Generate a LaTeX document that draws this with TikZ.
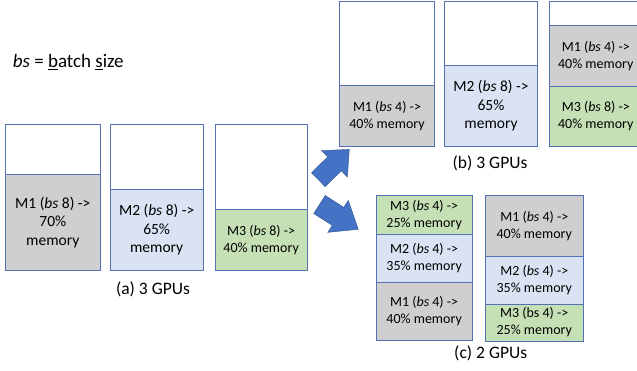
\documentclass[tikz,border=0pt]{standalone}
\usepackage{fontspec}
\setmainfont{Carlito}
\definecolor{bordc}{RGB}{84,114,178}
\definecolor{grayf}{RGB}{208,206,206}
\definecolor{bluef}{RGB}{218,227,243}
\definecolor{greenf}{RGB}{197,224,180}
\definecolor{arrf}{RGB}{68,114,196}
\definecolor{arrd}{RGB}{47,82,143}
\tikzset{
  seg/.style={draw=bordc, line width=0.9pt, rectangle, inner sep=0pt, align=center, text=black},
  big/.style={font=\fontsize{15.5}{18.5}\selectfont},
  small/.style={font=\fontsize{14}{17}\selectfont},
  captext/.style={font=\fontsize{17.5}{20}\selectfont, inner sep=0pt},
  blockarrow/.style={fill=arrf, draw=arrd, line width=0.4pt}
}
\begin{document}
\begin{tikzpicture}[x=1pt,y=-1pt]
\useasboundingbox (0,0) rectangle (637,370);
\clip (0,0) rectangle (637,370);
% legend
\node[anchor=base west, inner sep=0pt, font=\fontsize{19}{22}\selectfont] (legend) at (12.7,67.3) {\textit{bs} = \underline{b}atch \underline{s}ize};
% (a)
\node[seg, minimum width=95pt, minimum height=50pt] (a1t) at (52.8,149.3) {};
\node[seg, big, fill=grayf, minimum width=95pt, minimum height=95.7pt] (a1b) at (52.8,222.2) {M1 (\textit{bs} 8) ->\\70\%\\memory};
\node[seg, minimum width=92.7pt, minimum height=65.4pt] (a2t) at (156.65,157) {};
\node[seg, big, fill=bluef, minimum width=92.7pt, minimum height=80.3pt] (a2b) at (156.65,229.85) {M2 (\textit{bs} 8) ->\\65\%\\memory};
\node[seg, minimum width=92.3pt, minimum height=85.4pt] (a3t) at (261.15,167) {};
\node[seg, small, fill=greenf, minimum width=92.3pt, minimum height=60.3pt] (a3b) at (261.15,239.85) {M3 (\textit{bs} 8) ->\\40\% memory};
\node[captext] (acap) at (153,289) {(a) 3 GPUs};
% arrows
\begin{scope}[shift={(318.3,179.7)}, rotate=44.4]
  \fill[blockarrow] (0,-9.7) -- (22.7,-9.7) -- (22.7,-18.4) -- (43.4,0) -- (22.7,18.4) -- (22.7,9.7) -- (0,9.7) -- cycle;
\end{scope}
\begin{scope}[shift={(319.5,204.5)}, rotate=-32.6]
  \fill[blockarrow] (0,-10.7) -- (22,-10.7) -- (22,-19) -- (46,0) -- (22,19) -- (22,10.7) -- (0,10.7) -- cycle;
\end{scope}
% (b)
\node[seg, minimum width=94.6pt, minimum height=84.3pt] (b1t) at (387,43.15) {};
\node[seg, small, fill=grayf, minimum width=94.6pt, minimum height=60.7pt] (b1b) at (387,115.65) {M1 (\textit{bs} 4) ->\\40\% memory};
\node[seg, minimum width=92.6pt, minimum height=64.3pt] (b2t) at (491,33.15) {};
\node[seg, big, fill=bluef, minimum width=92.6pt, minimum height=80.7pt] (b2b) at (491,105.65) {M2 (\textit{bs} 8) ->\\65\%\\memory};
\node[seg, minimum width=93pt, minimum height=24pt] (b3t) at (595.8,13) {};
\node[seg, small, fill=grayf, minimum width=93pt, minimum height=61.7pt] (b3m) at (595.8,55.85) {M1 (\textit{bs} 4) ->\\40\% memory};
\node[seg, small, fill=greenf, minimum width=93pt, minimum height=59.3pt] (b3b) at (595.8,116.35) {M3 (\textit{bs} 8) ->\\40\% memory};
\node[captext] (bcap) at (490,163) {(b) 3 GPUs};
% (c)
\node[seg, small, fill=greenf, minimum width=96.3pt, minimum height=38.3pt] (c1t) at (424.15,214.85) {M3 (\textit{bs} 4) ->\\25\% memory};
\node[seg, small, fill=bluef, minimum width=96.3pt, minimum height=48.3pt] (c1m) at (424.15,258.15) {M2 (\textit{bs} 4) ->\\35\% memory};
\node[seg, small, fill=grayf, minimum width=96.3pt, minimum height=57.7pt] (c1b) at (424.15,311.15) {M1 (\textit{bs} 4) ->\\40\% memory};
\node[seg, small, fill=grayf, minimum width=98pt, minimum height=60.3pt] (c2t) at (534.3,225.85) {M1 (\textit{bs} 4) ->\\40\% memory};
\node[seg, small, fill=bluef, minimum width=98pt, minimum height=48pt] (c2m) at (534.3,280) {M2 (\textit{bs} 4) ->\\35\% memory};
\node[seg, small, fill=greenf, minimum width=98pt, minimum height=37pt] (c2b) at (534.3,322.5) {M3 (bs 4) ->\\25\% memory};
\node[captext] (ccap) at (490.7,353) {(c) 2 GPUs};
\end{tikzpicture}
\end{document}
